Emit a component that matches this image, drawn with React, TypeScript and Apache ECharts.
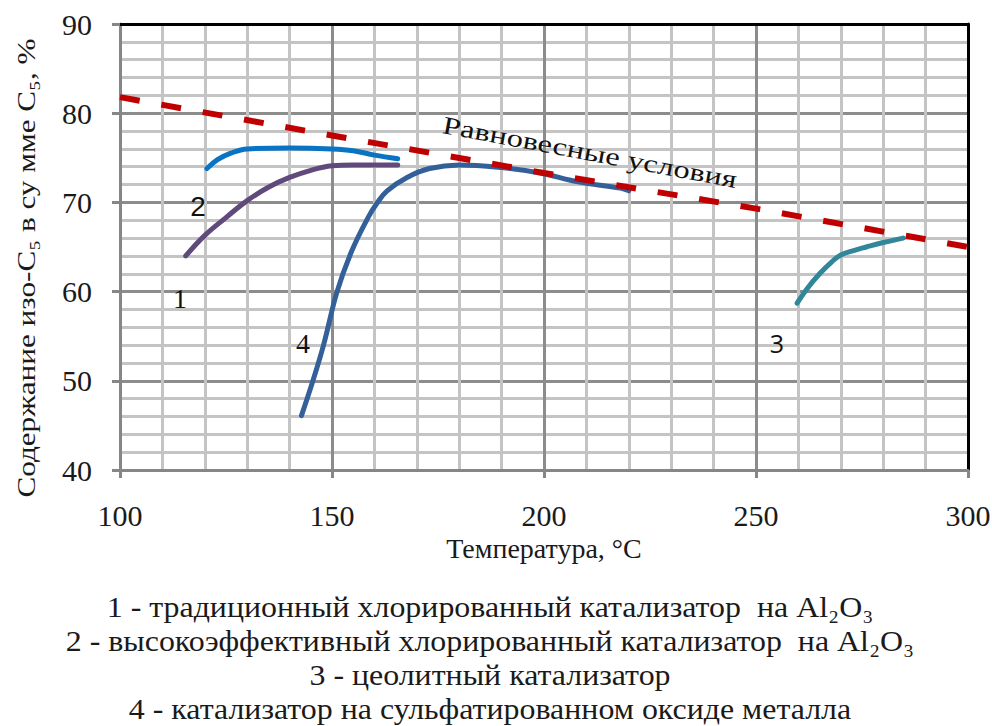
import React, { useEffect, useRef } from "react";
import * as echarts from "echarts";

const xTicks = [100, 150, 200, 250, 300];
const yTicks = [40, 50, 60, 70, 80, 90];

const equilibrium: [number, number][] = [
  [100, 81.8], [150, 77.5], [200, 73.3], [250, 69.3], [300, 65.0],
];
const curve1: [number, number][] = [
  [115.5, 64.0], [120, 66.3], [125, 68.3], [130, 70.2], [135, 71.7], [140, 72.8],
  [145, 73.6], [150, 74.1], [155, 74.2], [160, 74.2], [165.5, 74.2],
];
const curve2: [number, number][] = [
  [120.5, 73.8], [123, 74.8], [126, 75.5], [130, 76.0], [140, 76.1], [150, 76.0],
  [155, 75.8], [160, 75.3], [165.5, 74.9],
];
const curve3: [number, number][] = [
  [259.7, 58.7], [262, 60.3], [265, 62.0], [268, 63.4], [270, 64.1], [273, 64.6],
  [276, 65.0], [280, 65.5], [284.7, 66.0],
];
const curve4: [number, number][] = [
  [142.8, 46.1], [145.5, 50.0], [148, 54.0], [151.2, 60.0], [154.7, 64.6],
  [158.5, 68.3], [160.6, 69.9], [163, 71.3], [167.7, 72.8], [173, 73.8],
  [180, 74.2], [190, 73.9], [199, 73.3], [208, 72.3], [218, 71.6], [220, 71.3],
];

const xTitle = "Температура, °С";
const yTitle = "Содержание изо-C₅ в су мме C₅, %";
const eqLabel = "Равновесные условия";
const legendLines = [
  "1 - традиционный хлорированный катализатор  на Al₂O₃",
  "2 - высокоэффективный хлорированный катализатор  на Al₂O₃",
  "3 - цеолитный катализатор",
  "4 - катализатор на сульфатированном оксиде металла",
];

const SERIF = "Liberation Serif";

export default function App() {
  const ref = useRef<HTMLDivElement>(null);
  useEffect(() => {
    if (!ref.current) return;
    const chart = echarts.init(ref.current, undefined, { renderer: "svg" });
    const line = (data: [number, number][], color: string, width = 5) => ({
      type: "line",
      data,
      smooth: 0.4,
      showSymbol: false,
      symbol: "none",
      lineStyle: { color, width, cap: "round" },
      z: 5,
    });
    chart.setOption({
      animation: false,
      backgroundColor: "#ffffff",
      textStyle: { fontFamily: SERIF },
      grid: { left: 120, right: 24, top: 24, bottom: 256, outerBoundsMode: "none", containLabel: false },
      xAxis: [
        {
          type: "value",
          min: xTicks[0],
          max: xTicks[xTicks.length - 1],
          interval: 50,
          name: xTitle,
          nameLocation: "middle",
          nameGap: 64,
          nameTextStyle: { fontFamily: SERIF, fontSize: 28, color: "#1a1a1a" },
          axisLine: { show: true, lineStyle: { color: "#868686", width: 3 } },
          axisTick: { show: true, length: 8, lineStyle: { color: "#868686", width: 3 } },
          axisLabel: { fontFamily: SERIF, fontSize: 30, color: "#1a1a1a", margin: 30 },
          splitLine: { show: true, lineStyle: { color: "#8c8c8c", width: 3 } },
          minorTick: { show: false, splitNumber: 5 },
          minorSplitLine: { show: true, lineStyle: { color: "#c4c4c4", width: 3 } },
        },
        {
          type: "value",
          position: "top",
          min: xTicks[0],
          max: xTicks[xTicks.length - 1],
          axisLine: { show: true, onZero: false, lineStyle: { color: "#000000", width: 3 } },
          axisTick: { show: false },
          axisLabel: { show: false },
          splitLine: { show: false },
        },
      ],
      yAxis: [
        {
          type: "value",
          min: yTicks[0],
          max: yTicks[yTicks.length - 1],
          interval: 10,
          axisLine: { show: true, lineStyle: { color: "#868686", width: 3 } },
          axisTick: { show: true, length: 8, lineStyle: { color: "#868686", width: 3 } },
          axisLabel: { fontFamily: SERIF, fontSize: 30, color: "#1a1a1a", margin: 28 },
          splitLine: { show: true, lineStyle: { color: "#8c8c8c", width: 3 } },
          minorTick: { show: false, splitNumber: 5 },
          minorSplitLine: { show: true, lineStyle: { color: "#c4c4c4", width: 3 } },
        },
        {
          type: "value",
          position: "right",
          min: yTicks[0],
          max: yTicks[yTicks.length - 1],
          axisLine: { show: true, onZero: false, lineStyle: { color: "#000000", width: 3 } },
          axisTick: { show: false },
          axisLabel: { show: false },
          splitLine: { show: false },
        },
      ],
      series: [
        line(curve1, "#604a7b"),
        line(curve2, "#0a74c4"),
        line(curve4, "#34609a"),
        line(curve3, "#31869a"),
        {
          type: "line",
          data: equilibrium,
          smooth: false,
          symbol: "none",
          lineStyle: { color: "#c00000", width: 6, type: [20, 22] },
          z: 6,
        },
      ],
      graphic: [
        {
          type: "text",
          x: 26,
          y: 268,
          rotation: Math.PI / 2,
          scaleX: 1.2,
          style: {
            text: yTitle,
            fontFamily: SERIF,
            fontSize: 26,
            fill: "#1a1a1a",
            align: "center",
            verticalAlign: "middle",
          },
        },
        {
          type: "text",
          x: 590,
          y: 152,
          rotation: -0.185,
          scaleX: 1.3,
          style: {
            text: eqLabel,
            fontFamily: SERIF,
            fontSize: 25,
            fill: "#111",
            align: "center",
            verticalAlign: "middle",
          },
          z: 10,
        },
        { type: "text", x: 180, y: 298, style: { text: "1", fontFamily: SERIF, fontSize: 28, fill: "#111", align: "center", verticalAlign: "middle" }, z: 10 },
        { type: "text", x: 198, y: 206, style: { text: "2", fontFamily: "Liberation Sans", fontSize: 28, fill: "#111", align: "center", verticalAlign: "middle" }, z: 10 },
        { type: "text", x: 777, y: 343, style: { text: "3", fontFamily: "Open Sans", fontSize: 25, fill: "#111", align: "center", verticalAlign: "middle" }, z: 10 },
        { type: "text", x: 303, y: 343, style: { text: "4", fontFamily: SERIF, fontSize: 28, fill: "#111", align: "center", verticalAlign: "middle" }, z: 10 },
        ...legendLines.map((t, i) => ({
          type: "text",
          x: 490,
          y: 607 + i * 34.3,
          scaleX: 1.1,
          style: {
            text: t,
            fontFamily: SERIF,
            fontSize: 29,
            fill: "#1a1a1a",
            align: "center",
            verticalAlign: "middle",
          },
        })),
      ],
    });
    return () => chart.dispose();
  }, []);
  return (
    <div
      ref={ref}
      style={{ position: "absolute", left: 0, top: 0, width: 992, height: 726 }}
    />
  );
}
